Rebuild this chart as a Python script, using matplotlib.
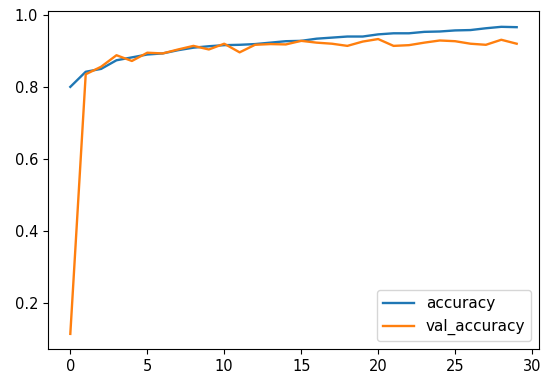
import matplotlib
matplotlib.use("Agg")
import matplotlib.pyplot as plt

epochs = list(range(30))
accuracy = [0.800, 0.842, 0.850, 0.874, 0.882, 0.890, 0.893, 0.902, 0.909, 0.913,
            0.916, 0.917, 0.919, 0.923, 0.927, 0.928, 0.934, 0.937, 0.940, 0.940,
            0.946, 0.949, 0.949, 0.953, 0.954, 0.957, 0.958, 0.963, 0.967, 0.966]
val_accuracy = [0.113, 0.835, 0.856, 0.888, 0.872, 0.895, 0.893, 0.904, 0.914, 0.904,
                0.920, 0.896, 0.917, 0.919, 0.918, 0.928, 0.923, 0.920, 0.914, 0.926,
                0.933, 0.914, 0.916, 0.923, 0.929, 0.927, 0.920, 0.917, 0.931, 0.920]

fig = plt.figure(figsize=(5.42, 3.75), dpi=100)
ax = fig.add_axes([48 / 542, 26 / 375, 491 / 542, 338 / 375])
ax.plot(epochs, accuracy, label='accuracy', lw=1.7)
ax.plot(epochs, val_accuracy, label='val_accuracy', lw=1.7)
ax.set_xlim(-1.45, 30.45)
ax.set_ylim(0.071, 1.011)
ax.set_xticks([0, 5, 10, 15, 20, 25, 30])
ax.set_yticks([0.2, 0.4, 0.6, 0.8, 1.0])
ax.tick_params(labelsize=10.5)
ax.legend(loc='lower right', fontsize=11)
fig.savefig('out.png', dpi=100)
